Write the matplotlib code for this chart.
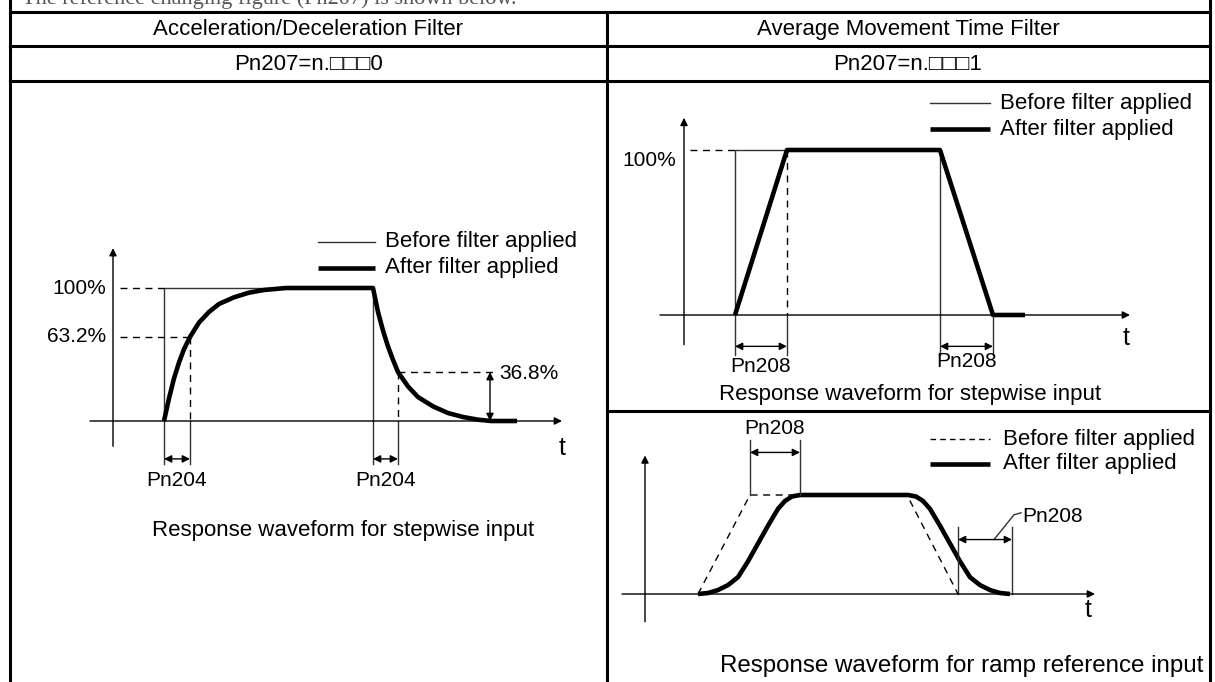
import numpy as np
import matplotlib.pyplot as plt

plt.rcParams['font.family'] = ['Liberation Sans', 'DejaVu Sans']

W, H = 1215, 682

# textos do cabecalho
col_titles = ['Acceleration/Deceleration Filter', 'Average Movement Time Filter']
col_params = ['Pn207=n.\u25a1\u25a1\u25a10', 'Pn207=n.\u25a1\u25a1\u25a11']
legend_labels = ['Before filter applied', 'After filter applied']

# painel esquerdo: filtro de aceleracao/desaceleracao (tempo em unidades do desenho, nivel em %)
acc_step_t = [51, 51, 260, 260]
acc_step_v = [0, 100, 100, 0]
acc_out_t = [51, 56, 61, 66, 71, 77, 86, 96, 106, 121, 136, 151, 173,
             260, 265, 270, 275, 280, 285, 295, 305, 320, 335, 350, 365, 378, 404]
acc_out_v = [0, 17, 32, 44, 54, 63.2, 74, 82, 88, 93, 96.5, 98.5, 100,
             100, 82, 68, 56, 46, 36.8, 26, 18, 11, 6, 3, 1, 0, 0]
acc_marks = [(51, 77), (260, 285)]

# painel direito superior: media movel, entrada degrau
avg_step_t = [51, 51, 256, 256]
avg_step_v = [0, 100, 100, 0]
avg_out_t = [51, 103, 256, 309, 341]
avg_out_v = [0, 100, 100, 0, 0]
avg_marks = [(51, 103), (256, 309)]

# painel direito inferior: media movel, entrada em rampa
ramp_in_t = [53, 105, 262, 313]
ramp_in_v = [0, 100, 100, 0]
ramp_out_t = [53, 63, 73, 83, 93, 103, 113, 123, 133, 140, 147, 155,
              263, 271, 278, 285, 295, 305, 315, 325, 335, 345, 355, 365]
ramp_out_v = [0, 1, 4, 9, 17, 33, 51, 69, 86, 94, 98.5, 100,
              100, 98.5, 94, 86, 69, 51, 33, 17, 9, 4, 1, 0]
ramp_marks = [(105, 155), (313, 367)]

THIN = dict(color='#333333', lw=1.0)
THICK = dict(color='black', lw=3.3, solid_capstyle='butt', solid_joinstyle='round')
DASH = dict(color='black', lw=1.0, ls=(0, (5, 4)))
FS = 15


def arrow(ax, p0, p1, both=False):
    ax.annotate('', xy=p1, xytext=p0,
                arrowprops=dict(arrowstyle='<|-|>' if both else '-|>', color='black',
                                lw=1.0, shrinkA=0, shrinkB=0, mutation_scale=11),
                annotation_clip=False)


def panel(fig, ox, oy, scale, box):
    # box em pixels da imagem (x0, y0, x1, y1); origem do grafico em (ox, oy)
    x0, y0, x1, y1 = box
    ax = fig.add_axes([x0 / W, 1 - y1 / H, (x1 - x0) / W, (y1 - y0) / H])
    ax.set_xlim(x0 - ox, x1 - ox)
    ax.set_ylim((oy - y1) / scale, (oy - y0) / scale)
    ax.axis('off')
    return ax


fig = plt.figure(figsize=(W / 100, H / 100), dpi=100)
base = fig.add_axes([0, 0, 1, 1])
base.set_xlim(0, W)
base.set_ylim(H, 0)
base.axis('off')

# linha de texto cortada no topo (so a parte de baixo aparece)
base.text(22, 4, 'The reference changing figure (Pn207) is shown below.', family='Liberation Serif',
          fontsize=16, va='baseline', ha='left', color='#555555')

# tabela
bw = 2.2
base.plot([10, 10], [0, H], color='black', lw=bw)
base.plot([1210, 1210], [0, H], color='black', lw=bw)
base.plot([606.5, 606.5], [12, H], color='black', lw=bw)
for yy in [12, 46, 81]:
    base.plot([10, 1210], [yy, yy], color='black', lw=bw)
base.plot([606.5, 1210], [410.5, 410.5], color='black', lw=bw)
for cx, title, par in zip([308, 908], col_titles, col_params):
    base.text(cx, 29.5, title, ha='center', va='center', fontsize=16)
    base.text(cx, 64, par, ha='center', va='center', fontsize=16)

# legendas
for (lx0, lx1, tx, yb, ya, dashed) in [(318, 375, 385, 242, 268, False),
                                        (930, 990, 1000, 103, 129, False),
                                        (930, 990, 1003, 439, 464, True)]:
    if dashed:
        base.plot([lx0, lx1], [yb, yb], color='black', lw=1.0, ls=(0, (4, 3)))
    else:
        base.plot([lx0, lx1], [yb, yb], **THIN)
    base.plot([lx0, lx1], [ya, ya], color='black', lw=3.3, solid_capstyle='butt')
    base.text(tx, yb, legend_labels[0], va='center', fontsize=FS + 1)
    base.text(tx, ya, legend_labels[1], va='center', fontsize=FS + 1)

# ---- painel esquerdo
ax = panel(fig, 113, 421, 1.33, (40, 220, 600, 560))
arrow(ax, (0, -19), (0, 130))
arrow(ax, (-23, 0), (449, 0))
ax.plot(acc_step_t, acc_step_v, **THIN)
ax.plot(acc_out_t, acc_out_v, **THICK)
ax.plot([7, 51], [100, 100], **DASH)
ax.plot([7, 77], [63.2, 63.2], **DASH)
ax.plot([77, 77], [63.2, 0], **DASH)
ax.plot([285, 285], [36.8, 0], **DASH)
ax.plot([285, 384], [36.8, 36.8], **DASH)
arrow(ax, (377, 36.8), (377, 0), both=True)
ax.text(-7, 100, '100%', ha='right', va='center', fontsize=FS)
ax.text(-7, 63.2, '63.2%', ha='right', va='center', fontsize=FS)
ax.text(386, 35.5, '36.8%', ha='left', va='center', fontsize=FS)
ax.text(449, -20, 't', ha='center', va='center', fontsize=FS + 3)
for a, b in acc_marks:
    ax.plot([a, a], [0, -32], **THIN)
    ax.plot([b, b], [0, -32], **THIN)
    arrow(ax, (a, -28.5), (b, -28.5), both=True)
    ax.text((a + b) / 2, -44.5, 'Pn204', ha='center', va='center', fontsize=FS)
ax.text(230, -82, 'Response waveform for stepwise input', ha='center', va='center', fontsize=FS + 1)

# ---- painel direito superior
ax = panel(fig, 684, 315, 1.65, (612, 84, 1205, 408))
arrow(ax, (0, -18), (0, 119.5))
arrow(ax, (-24, 0), (446, 0))
ax.plot(avg_step_t, avg_step_v, **THIN)
ax.plot(avg_out_t, avg_out_v, **THICK)
ax.plot([6, 51], [100, 100], **DASH)
ax.plot([103, 103], [100, 0], **DASH)
ax.text(-8, 93.5, '100%', ha='right', va='center', fontsize=FS)
ax.text(442, -14, 't', ha='center', va='center', fontsize=FS + 3)
for (a, b), ly in zip(avg_marks, [-31, -28]):
    ax.plot([a, a], [0, -24], **THIN)
    ax.plot([b, b], [0, -24], **THIN)
    arrow(ax, (a, -19), (b, -19), both=True)
    ax.text((a + b) / 2, ly, 'Pn208', ha='center', va='center', fontsize=FS)
ax.text(226, -48, 'Response waveform for stepwise input', ha='center', va='center', fontsize=FS + 1)

# ---- painel direito inferior
ax = panel(fig, 645, 594, 0.99, (612, 413, 1205, 682))
arrow(ax, (0, -28), (0, 140))
arrow(ax, (-23, 0), (450, 0))
ax.plot(ramp_in_t, ramp_in_v, **DASH)
ax.plot(ramp_out_t, ramp_out_v, **THICK)
a, b = ramp_marks[0]
ax.plot([a, a], [100, 156], **THIN)
ax.plot([b, b], [100, 156], **THIN)
arrow(ax, (a, 143), (b, 143), both=True)
ax.text((a + b) / 2, 167, 'Pn208', ha='center', va='center', fontsize=FS)
a, b = ramp_marks[1]
ax.plot([a, a], [0, 68], **THIN)
ax.plot([b, b], [0, 68], **THIN)
arrow(ax, (a, 55), (b, 55), both=True)
ax.plot([376, 369, 349], [82, 80, 55], **THIN)
ax.text(377, 78, 'Pn208', ha='left', va='center', fontsize=FS)
ax.text(443, -16, 't', ha='center', va='center', fontsize=FS + 3)
ax.text(317, -73, 'Response waveform for ramp reference input', ha='center', va='center',
        fontsize=17.4)

fig.savefig('out.png', dpi=100)
